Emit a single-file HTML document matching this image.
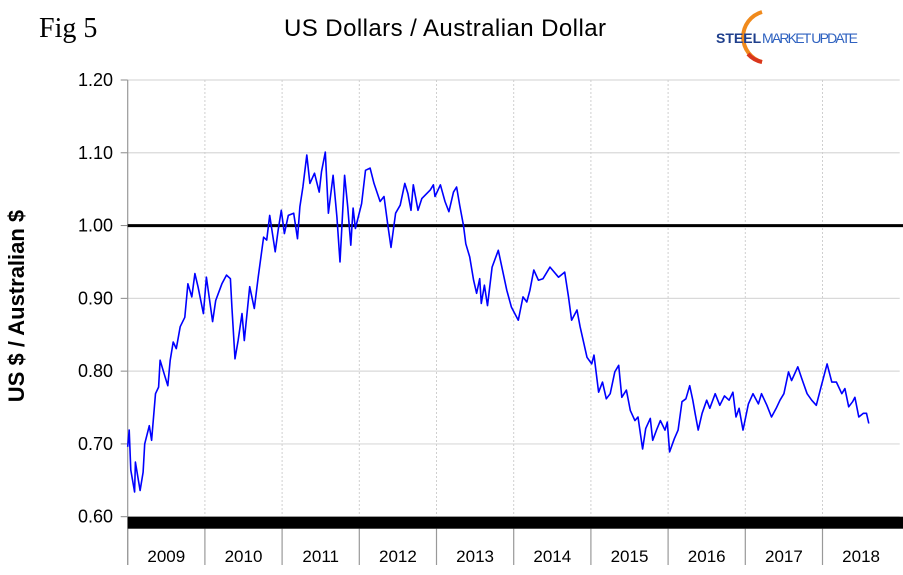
<!DOCTYPE html>
<html><head><meta charset="utf-8">
<style>
body{margin:0;background:#fff;}
svg{display:block;font-family:"Liberation Sans",Arial,sans-serif;}
</style></head>
<body>
<svg id="chart" width="903" height="575" viewBox="0 0 903 575">
  <text x="39" y="37" font-family="Liberation Serif,serif" font-size="28" fill="#000">Fig 5</text>
  <text x="445" y="36" text-anchor="middle" font-size="24" fill="#000" textLength="322">US Dollars  / Australian Dollar</text>
  <g>
    <path d="M762,12 A26,26 0 0,0 762,62" fill="none" stroke="#f08a1c" stroke-width="4"/>
    <path d="M748,54 A26,26 0 0,0 762,62" fill="none" stroke="#d9361c" stroke-width="4"/>
    <text x="716" y="43" font-size="14" font-weight="bold" fill="#1f3f8c">STEEL</text>
    <text x="762" y="43" font-size="14" fill="#2f62c0" textLength="96">MARKET UPDATE</text>
  </g>
  <text transform="translate(24,306) rotate(-90)" text-anchor="middle" font-size="22" font-weight="bold">US $ / Australian $</text>
  <g id="grid"></g>
  <g id="axes"></g>
  <g id="series"></g>
</svg>
<script>
const dates=[2009.00,2009.02,2009.04,2009.09,2009.10,2009.16,2009.20,2009.22,2009.28,2009.31,2009.36,2009.40,2009.42,2009.47,2009.52,2009.55,2009.59,2009.63,2009.68,2009.74,2009.78,2009.83,2009.87,2009.91,2009.98,2010.02,2010.10,2010.14,2010.22,2010.28,2010.33,2010.35,2010.39,2010.43,2010.48,2010.51,2010.58,2010.64,2010.69,2010.76,2010.80,2010.84,2010.91,2010.95,2010.99,2011.03,2011.08,2011.15,2011.20,2011.23,2011.27,2011.32,2011.36,2011.42,2011.48,2011.51,2011.56,2011.60,2011.66,2011.71,2011.75,2011.81,2011.85,2011.89,2011.92,2011.95,2012.03,2012.08,2012.14,2012.19,2012.27,2012.32,2012.37,2012.41,2012.47,2012.53,2012.59,2012.63,2012.67,2012.70,2012.76,2012.81,2012.92,2012.96,2012.98,2013.05,2013.11,2013.16,2013.22,2013.26,2013.30,2013.35,2013.38,2013.43,2013.48,2013.52,2013.56,2013.58,2013.62,2013.66,2013.72,2013.80,2013.91,2013.97,2014.06,2014.12,2014.17,2014.21,2014.26,2014.32,2014.38,2014.47,2014.58,2014.66,2014.71,2014.75,2014.82,2014.86,2014.95,2015.01,2015.04,2015.10,2015.15,2015.20,2015.25,2015.31,2015.36,2015.40,2015.46,2015.51,2015.57,2015.61,2015.67,2015.71,2015.77,2015.80,2015.85,2015.90,2015.96,2015.99,2016.02,2016.08,2016.13,2016.18,2016.23,2016.28,2016.32,2016.35,2016.39,2016.44,2016.50,2016.54,2016.61,2016.67,2016.73,2016.79,2016.84,2016.88,2016.92,2016.97,2017.04,2017.10,2017.17,2017.21,2017.28,2017.34,2017.40,2017.45,2017.50,2017.56,2017.60,2017.68,2017.73,2017.80,2017.86,2017.92,2017.98,2018.06,2018.12,2018.18,2018.25,2018.29,2018.34,2018.39,2018.42,2018.47,2018.53,2018.57,2018.60];
const rates=[0.696,0.719,0.664,0.634,0.675,0.636,0.661,0.700,0.725,0.705,0.769,0.778,0.815,0.797,0.780,0.815,0.840,0.831,0.861,0.874,0.920,0.902,0.934,0.916,0.879,0.929,0.868,0.897,0.920,0.932,0.927,0.888,0.817,0.842,0.879,0.842,0.916,0.886,0.929,0.984,0.980,1.014,0.964,0.994,1.021,0.989,1.014,1.017,0.982,1.026,1.053,1.097,1.058,1.072,1.046,1.074,1.101,1.017,1.069,1.012,0.950,1.069,1.026,0.973,1.024,0.996,1.030,1.076,1.079,1.058,1.033,1.040,1.000,0.970,1.017,1.028,1.058,1.044,1.021,1.056,1.021,1.037,1.049,1.056,1.040,1.056,1.033,1.019,1.046,1.053,1.028,1.000,0.975,0.957,0.925,0.907,0.927,0.893,0.918,0.890,0.943,0.966,0.911,0.888,0.870,0.902,0.895,0.911,0.939,0.925,0.927,0.943,0.929,0.936,0.902,0.870,0.884,0.861,0.819,0.810,0.822,0.771,0.785,0.762,0.769,0.799,0.808,0.764,0.774,0.746,0.732,0.737,0.693,0.721,0.735,0.705,0.719,0.732,0.719,0.730,0.689,0.707,0.719,0.758,0.762,0.780,0.760,0.742,0.719,0.742,0.760,0.749,0.769,0.753,0.766,0.760,0.771,0.737,0.749,0.719,0.755,0.769,0.755,0.769,0.753,0.737,0.749,0.760,0.769,0.799,0.787,0.806,0.790,0.769,0.760,0.753,0.778,0.810,0.785,0.785,0.769,0.776,0.751,0.758,0.764,0.737,0.742,0.742,0.728];
const years=[2009,2010,2011,2012,2013,2014,2015,2016,2017,2018];
const yTicks=[0.60,0.70,0.80,0.90,1.00,1.10,1.20];
const refLevel=1.00;

const L=127.7,R=899.7,T=80,B=516.7;
const x=t=>L+(t-2009)/10*(R-L);
const y=v=>B-(v-0.6)/0.6*(B-T);
const NS="http://www.w3.org/2000/svg";
function mk(tag,parent,attrs){const e=document.createElementNS(NS,tag);for(const k in attrs)e.setAttribute(k,attrs[k]);parent.appendChild(e);return e;}
const grid=document.getElementById('grid'),axes=document.getElementById('axes'),series=document.getElementById('series');

yTicks.forEach(v=>{
  const g=mk('line',grid,{x1:L,x2:R,y1:y(v),y2:y(v),stroke:'#d9d9d9','stroke-width':1.2});
  
  
  const tk=mk('line',axes,{x1:L-7,x2:L,y1:y(v),y2:y(v),stroke:'#888','stroke-width':1});
  
  
  const t=mk('text',axes,{x:113,y:y(v)+6,'text-anchor':'end','font-size':18,fill:'#000'});
  t.textContent=v.toFixed(2);
  
  
});
years.forEach((yr,i)=>{
  if(i>0){
    const g=mk('line',grid,{x1:x(yr),x2:x(yr),y1:T,y2:B,stroke:'#cfcfcf','stroke-width':1,'stroke-dasharray':'2,2'});
    
    
  }
  const d=mk('line',axes,{x1:x(yr),x2:x(yr),y1:B+12,y2:565,stroke:'#999','stroke-width':1.2});
  
  
  const t=mk('text',axes,{x:x(yr+0.5),y:562,'text-anchor':'middle','font-size':17,fill:'#000'});
  t.textContent=yr;
  
  
});
const ax=mk('line',axes,{x1:L,x2:L,y1:T,y2:565,stroke:'#999','stroke-width':1.2});


const bar=mk('rect',axes,{x:L,y:B,width:R-L+5,height:12,fill:'#000'});


const ref=mk('line',series,{x1:L,x2:R+5,y1:y(refLevel),y2:y(refLevel),stroke:'#000','stroke-width':3});


const pts=dates.map((d,i)=>x(d).toFixed(1)+','+y(rates[i]).toFixed(1)).join(' ');
const pl=mk('polyline',series,{points:pts,fill:'none',stroke:'#0000ff','stroke-width':1.6,'stroke-linejoin':'round'});


</script>
</body></html>
